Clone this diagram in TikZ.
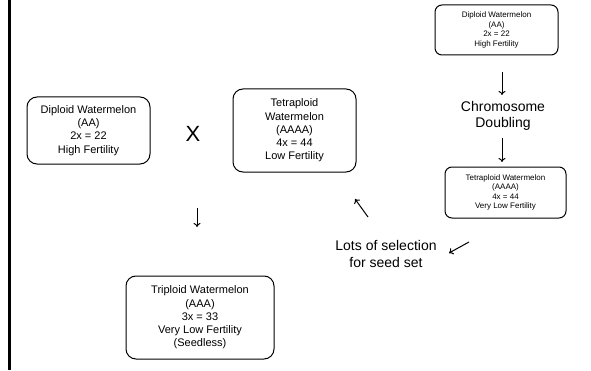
\documentclass[tikz,border=0pt]{standalone}
\usepackage{fontspec}
\setmainfont{Liberation Sans}
\usetikzlibrary{arrows.meta}
\begin{document}
\begin{tikzpicture}[x=1pt, y=1pt,
    bigbox/.style={draw, line width=1pt, rounded corners=10pt, align=center, inner sep=0pt,
        font=\fontsize{11}{13.3}\selectfont},
    smallbox/.style={draw, line width=1pt, rounded corners=7pt, align=center, inner sep=0pt,
        font=\fontsize{8}{9.6}\selectfont},
    glyph/.style={-{To[length=4pt, width=7pt]}, line width=1pt}]
    \useasboundingbox (0,0) rectangle (591,370);

    % the bar on the left
    \draw[line width=3pt] (9.5,0) -- (9.5,370);

    % the boxes
    \node[bigbox, minimum width=123, minimum height=67] (dipl) at (88.5,239.5)
        {Diploid Watermelon\\(AA)\\2x = 22\\High Fertility};
    \node[bigbox, minimum width=123, minimum height=83] (tetra) at (294.5,239.5)
        {Tetraploid\\Watermelon\\(AAAA)\\4x = 44\\Low Fertility};
    \node[smallbox, minimum width=123, minimum height=50] (topdipl) at (496.5,340)
        {Diploid Watermelon\\(AA)\\2x = 22\\High Fertility};
    \node[smallbox, minimum width=121, minimum height=51] (tetralow) at (505.5,177.5)
        {Tetraploid Watermelon\\(AAAA)\\4x = 44\\Very Low Fertility};
    \node[bigbox, minimum width=148, minimum height=83] (trip) at (200,52.5)
        {Triploid Watermelon\\(AAA)\\3x = 33\\Very Low Fertility\\(Seedless)};

    % the texts
    \node[font=\fontsize{22}{24}\selectfont] (cross) at (193,236) {X};
    \node[align=center, font=\fontsize{14}{16.5}\selectfont] (doubling) at (503,254)
        {Chromosome\\Doubling};
    \node[align=center, font=\fontsize{14}{17}\selectfont] (selection) at (386,116)
        {Lots of selection\\for seed set};

    % end points of the small arrows
    \coordinate (a1) at (502,298);
    \coordinate (b1) at (502,275);
    \coordinate (a2) at (502,232);
    \coordinate (b2) at (502,208);
    \coordinate (a3) at (368,153);
    \coordinate (b3) at (355,171);
    \coordinate (a4) at (469,128);
    \coordinate (b4) at (449,117);
    \coordinate (a5) at (197,162);
    \coordinate (b5) at (197,143);

    % draw the arrows
    \draw[glyph] (a1) -- (b1);
    \draw[glyph] (a2) -- (b2);
    \draw[glyph] (a3) -- (b3);
    \draw[glyph] (a4) -- (b4);
    \draw[glyph] (a5) -- (b5);

\end{tikzpicture}
\end{document}
